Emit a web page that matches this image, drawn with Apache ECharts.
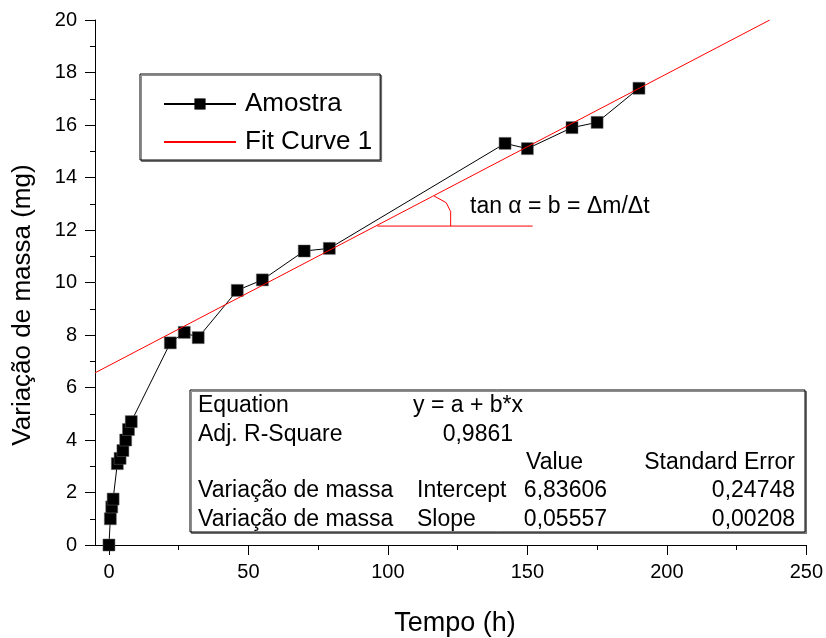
<!DOCTYPE html>
<html>
<head>
<meta charset="utf-8">
<script src="https://cdn.jsdelivr.net/npm/echarts@6/dist/echarts.min.js"></script>
<style>
  html, body { margin: 0; padding: 0; background: #fff; }
  #chart { width: 826px; height: 638px; }
</style>
</head>
<body>
<div id="chart"></div>
<script>
  // dados
  const timeH = [0, 0.5, 1, 1.5, 3, 4, 5, 6, 7, 8, 22, 27, 32, 46, 55, 70, 79, 142, 150, 166, 175, 190];
  const massMg = [0, 1.0, 1.45, 1.75, 3.1, 3.3, 3.6, 4.0, 4.4, 4.7, 7.7, 8.1, 7.9, 9.7, 10.1, 11.2, 11.3, 15.3, 15.1, 15.9, 16.1, 17.4];

  // ajuste linear (valores da tabela)
  const fitA = 6.83606;
  const fitB = 0.05557;

  const xTicks = [0, 50, 100, 150, 200, 250];
  const xMinorTicks = [25, 75, 125, 175, 225];

  // marca do ângulo alfa
  const angleLineX = [96.2, 151.9];
  const angleLineY = 12.15;
  const angleArcX = [116.5, 120.9, 122.5, 122.5];
  const angleArcY = [13.3, 13.04, 12.7, 12.15];

  const tableRows = [
    ['Equation', 'y = a + b*x', '', ''],
    ['Adj. R-Square', '0,9861', '', ''],
    ['', '', 'Value', 'Standard Error'],
    ['Variação de massa', 'Intercept', '6,83606', '0,24748'],
    ['Variação de massa', 'Slope', '0,05557', '0,00208']
  ];

  const FONT = 'Liberation Sans';
  const xMin = -5, xMax = 250, yMin = 0, yMax = 20;

  const amostra = timeH.map((t, i) => [t, massMg[i]]);
  const fitLine = [[xMin, fitA + fitB * xMin], [(yMax - fitA) / fitB, yMax]];

  // tabela como elementos de texto
  const tableGraphics = [{
    type: 'rect',
    shape: { x: 190, y: 390, width: 615, height: 142 },
    style: { fill: '#fff', stroke: '#000', lineWidth: 1, shadowColor: 'rgba(0,0,0,0.45)', shadowOffsetX: 1.5, shadowOffsetY: 1.5 },
    z: 10
  }];
  const rowY0 = 406, rowStep = 28.3;
  tableRows.forEach((row, r) => {
    const y = rowY0 + r * rowStep;
    const cells = [
      { text: row[0], x: 198, align: 'left' },
      { text: row[1], x: r === 1 ? 513 : (r === 0 ? 413 : 417), align: r === 1 ? 'right' : 'left' },
      { text: row[2], x: r === 2 ? 526 : 607, align: r === 2 ? 'left' : 'right' },
      { text: row[3], x: 795, align: 'right' }
    ];
    cells.forEach(c => {
      if (!c.text) return;
      tableGraphics.push({
        type: 'text', x: c.x, y: y, z: 11,
        style: { text: c.text, font: '23px "' + FONT + '"', fill: '#000', align: c.align, verticalAlign: 'middle' }
      });
    });
  });

  const myChart = echarts.init(document.getElementById('chart'), null, { renderer: 'canvas' });
  myChart.setOption({
    animation: false,
    backgroundColor: '#fff',
    textStyle: { fontFamily: FONT, color: '#000' },
    grid: { left: 95, right: 18, top: 20, bottom: 93 },
    legend: {
      orient: 'vertical',
      left: 140,
      top: 74,
      data: [
        { name: 'Amostra', itemStyle: { color: '#000', borderWidth: 0 } },
        { name: 'Fit Curve 1', itemStyle: { opacity: 0 } }
      ],
      itemWidth: 72,
      itemHeight: 14,
      itemGap: 8,
      padding: [15, 8, 3, 23],
      backgroundColor: '#fff',
      borderColor: '#000',
      borderWidth: 1,
      borderRadius: 0,
      shadowColor: 'rgba(0,0,0,0.45)',
      shadowOffsetX: 1.5,
      shadowOffsetY: 1.5,
      textStyle: { fontSize: 26, lineHeight: 30, color: '#000', fontFamily: FONT, padding: [0, 0, 0, 4] }
    },
    xAxis: [
      {
        type: 'value', min: xMin, max: xMax,
        axisLine: { onZero: false, lineStyle: { color: '#000', width: 1 } },
        axisTick: { customValues: xTicks, length: 10, lineStyle: { color: '#000' } },
        axisLabel: { customValues: xTicks, fontSize: 20, margin: 17, color: '#000' },
        splitLine: { show: false }
      },
      {
        type: 'value', min: xMin, max: xMax, position: 'bottom',
        axisLine: { show: false },
        axisTick: { customValues: xMinorTicks, length: 5, lineStyle: { color: '#000' } },
        axisLabel: { show: false },
        splitLine: { show: false }
      }
    ],
    yAxis: {
      type: 'value', min: yMin, max: yMax, interval: 2,
      axisLine: { show: true, onZero: false, lineStyle: { color: '#000', width: 1 } },
      axisTick: { show: true, length: 10, lineStyle: { color: '#000' } },
      minorTick: { show: true, splitNumber: 2, length: 5, lineStyle: { color: '#000' } },
      axisLabel: { fontSize: 20, margin: 18, color: '#000' },
      splitLine: { show: false }
    },
    series: [
      {
        name: 'Amostra',
        type: 'line',
        data: amostra,
        symbol: 'rect',
        symbolSize: 12,
        itemStyle: { color: '#000', borderColor: '#666', borderWidth: 0.5 },
        lineStyle: { color: '#000', width: 1 },
        z: 3
      },
      {
        name: 'Fit Curve 1',
        type: 'line',
        data: fitLine,
        symbol: 'none',
        lineStyle: { color: '#ff0000', width: 1 },
        itemStyle: { color: '#ff0000' },
        z: 4
      },
      {
        type: 'line',
        data: angleLineX.map(x => [x, angleLineY]),
        symbol: 'none',
        silent: true,
        lineStyle: { color: '#ff0000', width: 1 }
      },
      {
        type: 'line',
        data: angleArcX.map((x, i) => [x, angleArcY[i]]),
        symbol: 'none',
        silent: true,
        lineStyle: { color: '#ff0000', width: 1 }
      }
    ],
    graphic: [
      {
        type: 'text', x: 23, y: 305, rotation: Math.PI / 2,
        style: { text: 'Variação de massa (mg)', font: '26px "' + FONT + '"', fill: '#000', align: 'center', verticalAlign: 'middle' }
      },
      {
        type: 'text', x: 455, y: 624,
        style: { text: 'Tempo (h)', font: '27px "' + FONT + '"', fill: '#000', align: 'center', verticalAlign: 'middle' }
      },
      {
        type: 'text', x: 470, y: 207,
        style: { text: 'tan α = b = Δm/Δt', font: '23px "' + FONT + '"', fill: '#000', align: 'left', verticalAlign: 'middle' }
      }
    ].concat(tableGraphics)
  });
</script>
</body>
</html>
